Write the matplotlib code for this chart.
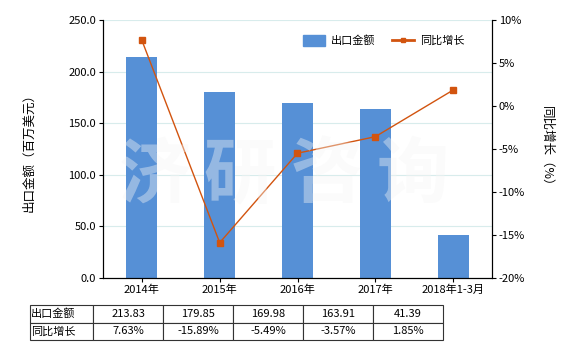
import matplotlib
matplotlib.use("Agg")
import matplotlib.pyplot as plt
from matplotlib.lines import Line2D
from matplotlib.patches import Patch

plt.rcParams['font.family'] = ['Noto Sans CJK SC', 'DejaVu Sans']

categories = ["2014年", "2015年", "2016年", "2017年", "2018年1-3月"]
export_values = [213.83, 179.85, 169.98, 163.91, 41.39]
growth_values = [7.63, -15.89, -5.49, -3.57, 1.85]
export_labels = ["213.83", "179.85", "169.98", "163.91", "41.39"]
growth_labels = ["7.63%", "-15.89%", "-5.49%", "-3.57%", "1.85%"]

bar_color = "#5690d6"
line_color = "#d2540f"
fs = 8

fig = plt.figure(figsize=(5.8, 3.5), dpi=100)
ax = fig.add_axes([103/580, 1-278/350, (492-103)/580, (278-20)/350])
x = list(range(len(categories)))
ax.bar(x, export_values, width=0.4, color=bar_color, zorder=2)
ax.set_xlim(-0.5, 4.5)
ax.set_ylim(0, 250)
ax.set_yticks([0, 50, 100, 150, 200, 250])
ax.set_yticklabels([f"{v:.1f}" for v in [0, 50, 100, 150, 200, 250]], fontsize=fs)
ax.set_xticks(x)
ax.set_xticklabels(categories, fontsize=fs)
ax.grid(axis='y', color="#d8ecec", linewidth=0.8, zorder=0)
ax.spines['top'].set_visible(False)
ax.tick_params(axis='both', length=3, width=0.8, pad=2)
ax.set_ylabel("出口金额（百万美元）", fontsize=fs+1, labelpad=24)

ax2 = ax.twinx()
ax2.plot(x, growth_values, color=line_color, linewidth=1, marker='s', markersize=4.5, zorder=3)
ax2.set_ylim(-20, 10)
ax2.set_yticks([-20, -15, -10, -5, 0, 5, 10])
ax2.set_yticklabels([f"{v}%" for v in [-20, -15, -10, -5, 0, 5, 10]], fontsize=fs)
ax2.spines['top'].set_visible(False)
ax2.tick_params(axis='y', length=3, width=0.8, pad=2)
ax2.set_ylabel("同比增长（%）", fontsize=fs+1, rotation=270, labelpad=20)

# watermark
for ch, px in zip("济研咨询", [155, 240, 327, 413]):
    fig.text(px/580, 1-176/350, ch, fontsize=52, color="#f5f5f5", alpha=0.4,
             ha='center', va='center', fontweight='bold', zorder=10)

handles = [Patch(color=bar_color),
           Line2D([], [], color=line_color, marker='s', markersize=3.5, linewidth=2)]
ax.legend(handles, ["出口金额", "同比增长"], loc='upper right', bbox_to_anchor=(0.955, 0.98),
          ncol=2, frameon=False, fontsize=fs, handlelength=2.0, handleheight=1.1,
          handletextpad=0.5, columnspacing=1.5)

# table
tax = fig.add_axes([30/580, 1-340/350, 413/580, 35/350])
tax.axis('off')
cell_text = [["出口金额"] + export_labels, ["同比增长"] + growth_labels]
tbl = tax.table(cellText=cell_text, bbox=[0, 0, 1, 1], cellLoc='center',
                colWidths=[63/413] + [70/413]*5)
tbl.auto_set_font_size(False)
tbl.set_fontsize(fs)
for (r, c), cell in tbl.get_celld().items():
    cell.set_linewidth(0.8)
    cell.set_edgecolor("#333333")
    if c == 0:
        cell._loc = 'left'
        cell.PAD = 0.02
        cell.get_text().set_ha('left')

fig.savefig("out.png", dpi=100)
